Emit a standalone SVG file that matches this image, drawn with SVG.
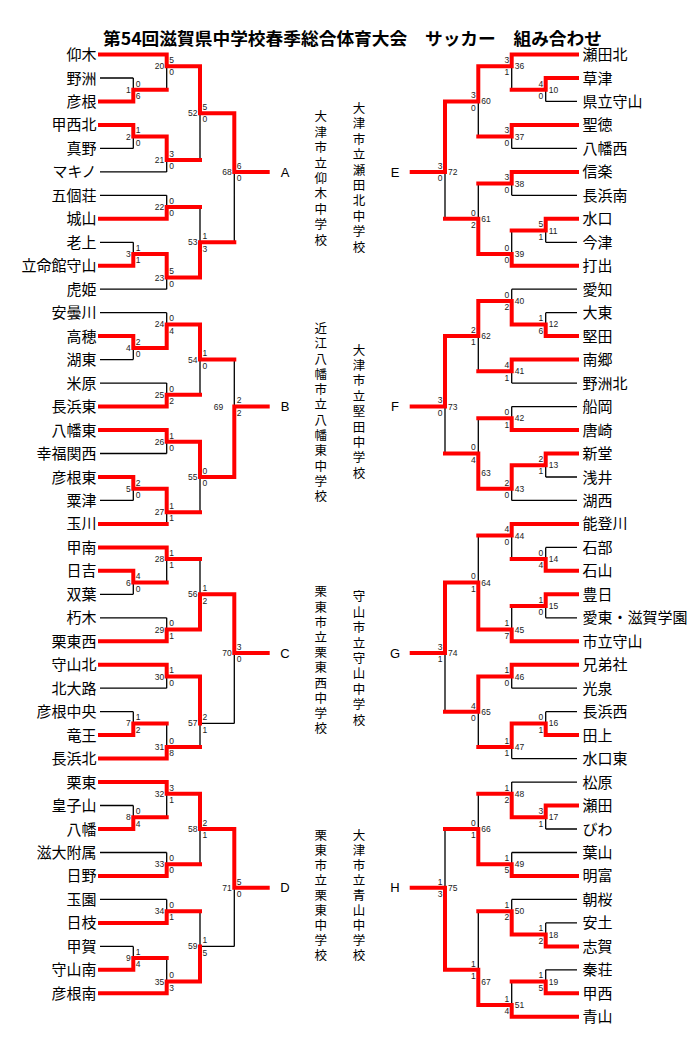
<svg xmlns="http://www.w3.org/2000/svg" width="695" height="1038" viewBox="0 0 695 1038">
<style>
.n{font-family:"Noto Sans CJK JP","Noto Sans CJK SC",sans-serif;font-size:15px;fill:#000}
.l{text-anchor:end}
.d{font-family:"Liberation Sans",Arial,sans-serif;font-size:8.5px;fill:#222}
.e{text-anchor:end}
.v{font-family:"Noto Sans CJK JP","Noto Sans CJK SC",sans-serif;font-size:12.5px;fill:#000;writing-mode:vertical-rl;text-orientation:upright}
.b{font-family:"Liberation Sans",Arial,sans-serif;font-size:13px;fill:#000;text-anchor:middle}
.blk{fill:none;stroke:#000;stroke-width:1.3}
.red{fill:none;stroke:#f00;stroke-width:4;stroke-linecap:square;stroke-linejoin:miter}
</style>
<rect width="695" height="1038" fill="#fff"/>
<g id="title"><text x="103" y="44.5" textLength="499" lengthAdjust="spacingAndGlyphs" style="font-family:'Noto Sans CJK JP','Noto Sans CJK SC',sans-serif;font-size:17px;font-weight:bold">第54回滋賀県中学校春季総合体育大会　サッカー　組み合わせ</text></g>
<g id="connectors">
<path class="blk" d="M100 78H133.3M100 148.4H133.3M100 171.9H166.7M100 195.3H166.7M100 242.3H133.3M100 289.2H166.7M100 312.7H166.7M100 359.6H133.3M100 383.1H166.7M100 453.5H166.7M100 500.4H133.3M100 594.3H133.3M100 617.8H166.7M100 688.2H166.7M100 711.7H133.3M100 805.5H133.3M100 852.5H166.7M100 899.4H166.7M100 946.4H133.3
M133.3 78V89.7M166.7 66.2V89.7M133.3 136.6V148.4M166.7 160.1V171.9M200 113.2V160.1M166.7 195.3V207.1M133.3 242.3V254M166.7 277.5V289.2M200 207.1V242.3M234.3 171.9V242.3
M133.3 347.9V359.6M166.7 312.7V324.4M166.7 383.1V394.8M200 359.6V394.8M166.7 441.8V453.5M133.3 488.7V500.4M166.7 512.2V523.9M200 477V512.2M234.3 359.6V406.6
M133.3 582.6V594.3M166.7 559.1V582.6M166.7 617.8V629.5M200 559.1V594.3M166.7 676.5V688.2M133.3 711.7V723.4M166.7 723.4V746.9M200 723.4V746.9M200 723.4H234.3M234.3 653V723.4
M133.3 805.5V817.3M166.7 793.8V817.3M166.7 852.5V864.2M200 829V864.2M166.7 899.4V911.2M133.3 946.4V958.1M166.7 958.1V981.6M200 911.2V946.4M200 946.4H234.3M234.3 887.7V946.4
M577 101.4H545.7M577 148.4H511.7M577 195.3H511.7M577 242.3H545.7M577 289.2H511.7M577 312.7H545.7M577 383.1H511.7M577 406.6H511.7M577 477H545.7M577 500.4H511.7M577 547.4H545.7M577 617.8H545.7M577 688.2H511.7M577 711.7H545.7M577 758.6H511.7M577 782.1H511.7M577 829H545.7M577 852.5H511.7M577 899.4H511.7M577 922.9H545.7M577 969.8H545.7
M545.7 89.7V101.4M511.7 66.2V89.7M511.7 136.6V148.4M478.3 101.4V136.6M511.7 183.6V195.3M545.7 230.5V242.3M511.7 230.5V254M478.3 183.6V218.8M445 171.9V218.8
M545.7 312.7V324.4M511.7 289.2V300.9M511.7 371.3V383.1M478.3 336.1V371.3M511.7 406.6V418.3M545.7 465.2V477M511.7 488.7V500.4M478.3 418.3V453.5M445 406.6V453.5
M545.7 547.4V559.1M511.7 535.6V559.1M545.7 606V617.8M511.7 606V629.5M478.3 535.6V582.6M511.7 676.5V688.2M545.7 711.7V723.4M511.7 746.9V758.6M478.3 711.7V746.9M445 653V711.7
M545.7 817.3V829M511.7 782.1V793.8M511.7 852.5V864.2M478.3 793.8V829M545.7 922.9V934.6M511.7 899.4V911.2M545.7 969.8V981.6M511.7 981.6V1005M478.3 911.2V969.8M445 829V887.7"/>
<path class="red" d="M100 54.5H166.7M100 101.4H133.3M100 124.9H133.3M100 218.8H166.7M100 265.7H133.3M100 336.1H133.3M100 406.6H166.7M100 430H166.7M100 477H133.3M100 523.9H166.7M100 547.4H166.7M100 570.8H133.3M100 641.3H166.7M100 664.7H166.7M100 735.1H133.3M100 758.6H166.7M100 782.1H166.7M100 829H133.3M100 875.9H166.7M100 922.9H166.7M100 969.8H133.3M100 993.3H166.7
M133.3 101.4V89.7H166.7M166.7 54.5V66.2H200M133.3 124.9V136.6H166.7M166.7 136.6V160.1H200M200 66.2V113.2H234.3M166.7 218.8V207.1H200M133.3 265.7V254H166.7M166.7 254V277.5H200M200 277.5V242.3H234.3M234.3 113.2V171.9H267.7
M133.3 336.1V347.9H166.7M166.7 347.9V324.4H200M166.7 406.6V394.8H200M200 324.4V359.6H234.3M166.7 430V441.8H200M133.3 477V488.7H166.7M166.7 488.7V512.2H200M200 441.8V477H234.3M234.3 477V406.6H267.7
M133.3 570.8V582.6H166.7M166.7 547.4V559.1H200M166.7 641.3V629.5H200M200 629.5V594.3H234.3M166.7 664.7V676.5H200M133.3 735.1V723.4H166.7M166.7 758.6V746.9H200M200 676.5V723.4M234.3 594.3V653H267.7
M133.3 829V817.3H166.7M166.7 782.1V793.8H200M166.7 875.9V864.2H200M200 793.8V829H234.3M166.7 922.9V911.2H200M133.3 969.8V958.1H166.7M166.7 993.3V981.6H200M200 981.6V946.4M234.3 829V887.7H267.7
M577 54.5H511.7M577 78H545.7M577 124.9H511.7M577 171.9H511.7M577 218.8H545.7M577 265.7H511.7M577 336.1H545.7M577 359.6H511.7M577 430H511.7M577 453.5H545.7M577 523.9H511.7M577 570.8H545.7M577 594.3H545.7M577 641.3H511.7M577 664.7H511.7M577 735.1H545.7M577 805.5H545.7M577 875.9H511.7M577 946.4H545.7M577 993.3H545.7M577 1016.8H511.7
M545.7 78V89.7H511.7M511.7 54.5V66.2H478.3M511.7 124.9V136.6H478.3M478.3 66.2V101.4H445M511.7 171.9V183.6H478.3M545.7 218.8V230.5H511.7M511.7 265.7V254H478.3M478.3 254V218.8H445M445 101.4V171.9H411.7
M545.7 336.1V324.4H511.7M511.7 324.4V300.9H478.3M511.7 359.6V371.3H478.3M478.3 300.9V336.1H445M511.7 430V418.3H478.3M545.7 453.5V465.2H511.7M511.7 465.2V488.7H478.3M478.3 488.7V453.5H445M445 336.1V406.6H411.7
M545.7 570.8V559.1H511.7M511.7 523.9V535.6H478.3M545.7 594.3V606H511.7M511.7 641.3V629.5H478.3M478.3 629.5V582.6H445M511.7 664.7V676.5H478.3M545.7 735.1V723.4H511.7M511.7 723.4V746.9H478.3M478.3 676.5V711.7H445M445 582.6V653H411.7
M545.7 805.5V817.3H511.7M511.7 817.3V793.8H478.3M511.7 875.9V864.2H478.3M478.3 864.2V829H445M545.7 946.4V934.6H511.7M511.7 934.6V911.2H478.3M545.7 993.3V981.6H511.7M511.7 1016.8V1005H478.3M478.3 1005V969.8H445M445 969.8V887.7H411.7"/>
</g>
<g id="scores">
<g transform="translate(133.3,89.7)"><text class="d e" x="-2.5" y="3">1</text><text class="d" x="2.5" y="-3.2">0</text><text class="d" x="2.5" y="9.3">6</text></g>
<g transform="translate(166.7,66.2)"><text class="d e" x="-2.5" y="3">20</text><text class="d" x="2.5" y="-3.2">5</text><text class="d" x="2.5" y="9.3">0</text></g>
<g transform="translate(133.3,136.6)"><text class="d e" x="-2.5" y="3">2</text><text class="d" x="2.5" y="-3.2">1</text><text class="d" x="2.5" y="9.3">0</text></g>
<g transform="translate(166.7,160.1)"><text class="d e" x="-2.5" y="3">21</text><text class="d" x="2.5" y="-3.2">3</text><text class="d" x="2.5" y="9.3">0</text></g>
<g transform="translate(200,113.2)"><text class="d e" x="-2.5" y="3">52</text><text class="d" x="2.5" y="-3.2">5</text><text class="d" x="2.5" y="9.3">0</text></g>
<g transform="translate(166.7,207.1)"><text class="d e" x="-2.5" y="3">22</text><text class="d" x="2.5" y="-3.2">0</text><text class="d" x="2.5" y="9.3">0</text></g>
<g transform="translate(133.3,254)"><text class="d e" x="-2.5" y="3">3</text><text class="d" x="2.5" y="-3.2">1</text><text class="d" x="2.5" y="9.3">1</text></g>
<g transform="translate(166.7,277.5)"><text class="d e" x="-2.5" y="3">23</text><text class="d" x="2.5" y="-3.2">5</text><text class="d" x="2.5" y="9.3">0</text></g>
<g transform="translate(200,242.3)"><text class="d e" x="-2.5" y="3">53</text><text class="d" x="2.5" y="-3.2">1</text><text class="d" x="2.5" y="9.3">3</text></g>
<g transform="translate(234.3,171.9)"><text class="d e" x="-2.5" y="3">68</text><text class="d" x="2.5" y="-3.2">6</text><text class="d" x="2.5" y="9.3">0</text></g>
<g transform="translate(133.3,347.9)"><text class="d e" x="-2.5" y="3">4</text><text class="d" x="2.5" y="-3.2">2</text><text class="d" x="2.5" y="9.3">0</text></g>
<g transform="translate(166.7,324.4)"><text class="d e" x="-2.5" y="3">24</text><text class="d" x="2.5" y="-3.2">0</text><text class="d" x="2.5" y="9.3">4</text></g>
<g transform="translate(166.7,394.8)"><text class="d e" x="-2.5" y="3">25</text><text class="d" x="2.5" y="-3.2">0</text><text class="d" x="2.5" y="9.3">2</text></g>
<g transform="translate(200,359.6)"><text class="d e" x="-2.5" y="3">54</text><text class="d" x="2.5" y="-3.2">1</text><text class="d" x="2.5" y="9.3">0</text></g>
<g transform="translate(166.7,441.8)"><text class="d e" x="-2.5" y="3">26</text><text class="d" x="2.5" y="-3.2">1</text><text class="d" x="2.5" y="9.3">0</text></g>
<g transform="translate(133.3,488.7)"><text class="d e" x="-2.5" y="3">5</text><text class="d" x="2.5" y="-3.2">2</text><text class="d" x="2.5" y="9.3">0</text></g>
<g transform="translate(166.7,512.2)"><text class="d e" x="-2.5" y="3">27</text><text class="d" x="2.5" y="-3.2">1</text><text class="d" x="2.5" y="9.3">1</text></g>
<g transform="translate(200,477)"><text class="d e" x="-2.5" y="3">55</text><text class="d" x="2.5" y="-3.2">0</text><text class="d" x="2.5" y="9.3">0</text></g>
<g transform="translate(234.3,406.6)"><text class="d e" x="-11" y="3">69</text><text class="d" x="2.5" y="-3.2">2</text><text class="d" x="2.5" y="9.3">2</text></g>
<g transform="translate(133.3,582.6)"><text class="d e" x="-2.5" y="3">6</text><text class="d" x="2.5" y="-3.2">4</text><text class="d" x="2.5" y="9.3">0</text></g>
<g transform="translate(166.7,559.1)"><text class="d e" x="-2.5" y="3">28</text><text class="d" x="2.5" y="-3.2">1</text><text class="d" x="2.5" y="9.3">1</text></g>
<g transform="translate(166.7,629.5)"><text class="d e" x="-2.5" y="3">29</text><text class="d" x="2.5" y="-3.2">0</text><text class="d" x="2.5" y="9.3">1</text></g>
<g transform="translate(200,594.3)"><text class="d e" x="-2.5" y="3">56</text><text class="d" x="2.5" y="-3.2">1</text><text class="d" x="2.5" y="9.3">2</text></g>
<g transform="translate(166.7,676.5)"><text class="d e" x="-2.5" y="3">30</text><text class="d" x="2.5" y="-3.2">1</text><text class="d" x="2.5" y="9.3">0</text></g>
<g transform="translate(133.3,723.4)"><text class="d e" x="-2.5" y="3">7</text><text class="d" x="2.5" y="-3.2">1</text><text class="d" x="2.5" y="9.3">2</text></g>
<g transform="translate(166.7,746.9)"><text class="d e" x="-2.5" y="3">31</text><text class="d" x="2.5" y="-3.2">0</text><text class="d" x="2.5" y="9.3">8</text></g>
<g transform="translate(200,723.4)"><text class="d e" x="-2.5" y="3">57</text><text class="d" x="2.5" y="-3.2">2</text><text class="d" x="2.5" y="9.3">1</text></g>
<g transform="translate(234.3,653)"><text class="d e" x="-2.5" y="3">70</text><text class="d" x="2.5" y="-3.2">3</text><text class="d" x="2.5" y="9.3">0</text></g>
<g transform="translate(133.3,817.3)"><text class="d e" x="-2.5" y="3">8</text><text class="d" x="2.5" y="-3.2">0</text><text class="d" x="2.5" y="9.3">4</text></g>
<g transform="translate(166.7,793.8)"><text class="d e" x="-2.5" y="3">32</text><text class="d" x="2.5" y="-3.2">3</text><text class="d" x="2.5" y="9.3">1</text></g>
<g transform="translate(166.7,864.2)"><text class="d e" x="-2.5" y="3">33</text><text class="d" x="2.5" y="-3.2">0</text><text class="d" x="2.5" y="9.3">0</text></g>
<g transform="translate(200,829)"><text class="d e" x="-2.5" y="3">58</text><text class="d" x="2.5" y="-3.2">2</text><text class="d" x="2.5" y="9.3">1</text></g>
<g transform="translate(166.7,911.2)"><text class="d e" x="-2.5" y="3">34</text><text class="d" x="2.5" y="-3.2">0</text><text class="d" x="2.5" y="9.3">1</text></g>
<g transform="translate(133.3,958.1)"><text class="d e" x="-2.5" y="3">9</text><text class="d" x="2.5" y="-3.2">1</text><text class="d" x="2.5" y="9.3">4</text></g>
<g transform="translate(166.7,981.6)"><text class="d e" x="-2.5" y="3">35</text><text class="d" x="2.5" y="-3.2">0</text><text class="d" x="2.5" y="9.3">3</text></g>
<g transform="translate(200,946.4)"><text class="d e" x="-2.5" y="3">59</text><text class="d" x="2.5" y="-3.2">1</text><text class="d" x="2.5" y="9.3">5</text></g>
<g transform="translate(234.3,887.7)"><text class="d e" x="-2.5" y="3">71</text><text class="d" x="2.5" y="-3.2">5</text><text class="d" x="2.5" y="9.3">0</text></g>
<g transform="translate(545.7,89.7)"><text class="d" x="3" y="3">10</text><text class="d e" x="-2.5" y="-3.2">4</text><text class="d e" x="-2.5" y="9.3">0</text></g>
<g transform="translate(511.7,66.2)"><text class="d" x="3" y="3">36</text><text class="d e" x="-2.5" y="-3.2">3</text><text class="d e" x="-2.5" y="9.3">1</text></g>
<g transform="translate(511.7,136.6)"><text class="d" x="3" y="3">37</text><text class="d e" x="-2.5" y="-3.2">3</text><text class="d e" x="-2.5" y="9.3">0</text></g>
<g transform="translate(478.3,101.4)"><text class="d" x="3" y="3">60</text><text class="d e" x="-2.5" y="-3.2">3</text><text class="d e" x="-2.5" y="9.3">0</text></g>
<g transform="translate(511.7,183.6)"><text class="d" x="3" y="3">38</text><text class="d e" x="-2.5" y="-3.2">3</text><text class="d e" x="-2.5" y="9.3">0</text></g>
<g transform="translate(545.7,230.5)"><text class="d" x="3" y="3">11</text><text class="d e" x="-2.5" y="-3.2">5</text><text class="d e" x="-2.5" y="9.3">1</text></g>
<g transform="translate(511.7,254)"><text class="d" x="3" y="3">39</text><text class="d e" x="-2.5" y="-3.2">0</text><text class="d e" x="-2.5" y="9.3">0</text></g>
<g transform="translate(478.3,218.8)"><text class="d" x="3" y="3">61</text><text class="d e" x="-2.5" y="-3.2">0</text><text class="d e" x="-2.5" y="9.3">2</text></g>
<g transform="translate(445,171.9)"><text class="d" x="3" y="3">72</text><text class="d e" x="-2.5" y="-3.2">3</text><text class="d e" x="-2.5" y="9.3">0</text></g>
<g transform="translate(545.7,324.4)"><text class="d" x="3" y="3">12</text><text class="d e" x="-2.5" y="-3.2">1</text><text class="d e" x="-2.5" y="9.3">6</text></g>
<g transform="translate(511.7,300.9)"><text class="d" x="3" y="3">40</text><text class="d e" x="-2.5" y="-3.2">0</text><text class="d e" x="-2.5" y="9.3">2</text></g>
<g transform="translate(511.7,371.3)"><text class="d" x="3" y="3">41</text><text class="d e" x="-2.5" y="-3.2">4</text><text class="d e" x="-2.5" y="9.3">1</text></g>
<g transform="translate(478.3,336.1)"><text class="d" x="3" y="3">62</text><text class="d e" x="-2.5" y="-3.2">2</text><text class="d e" x="-2.5" y="9.3">1</text></g>
<g transform="translate(511.7,418.3)"><text class="d" x="3" y="3">42</text><text class="d e" x="-2.5" y="-3.2">0</text><text class="d e" x="-2.5" y="9.3">1</text></g>
<g transform="translate(545.7,465.2)"><text class="d" x="3" y="3">13</text><text class="d e" x="-2.5" y="-3.2">2</text><text class="d e" x="-2.5" y="9.3">1</text></g>
<g transform="translate(511.7,488.7)"><text class="d" x="3" y="3">43</text><text class="d e" x="-2.5" y="-3.2">2</text><text class="d e" x="-2.5" y="9.3">0</text></g>
<g transform="translate(478.3,453.5)"><text class="d" x="3" y="22.2">63</text><text class="d e" x="-2.5" y="-3.2">0</text><text class="d e" x="-2.5" y="9.3">4</text></g>
<g transform="translate(445,406.6)"><text class="d" x="3" y="3">73</text><text class="d e" x="-2.5" y="-3.2">3</text><text class="d e" x="-2.5" y="9.3">0</text></g>
<g transform="translate(545.7,559.1)"><text class="d" x="3" y="3">14</text><text class="d e" x="-2.5" y="-3.2">0</text><text class="d e" x="-2.5" y="9.3">4</text></g>
<g transform="translate(511.7,535.6)"><text class="d" x="3" y="3">44</text><text class="d e" x="-2.5" y="-3.2">4</text><text class="d e" x="-2.5" y="9.3">0</text></g>
<g transform="translate(545.7,606)"><text class="d" x="3" y="3">15</text><text class="d e" x="-2.5" y="-3.2">1</text><text class="d e" x="-2.5" y="9.3">0</text></g>
<g transform="translate(511.7,629.5)"><text class="d" x="3" y="3">45</text><text class="d e" x="-2.5" y="-3.2">1</text><text class="d e" x="-2.5" y="9.3">7</text></g>
<g transform="translate(478.3,582.6)"><text class="d" x="3" y="3">64</text><text class="d e" x="-2.5" y="-3.2">0</text><text class="d e" x="-2.5" y="9.3">1</text></g>
<g transform="translate(511.7,676.5)"><text class="d" x="3" y="3">46</text><text class="d e" x="-2.5" y="-3.2">1</text><text class="d e" x="-2.5" y="9.3">0</text></g>
<g transform="translate(545.7,723.4)"><text class="d" x="3" y="3">16</text><text class="d e" x="-2.5" y="-3.2">0</text><text class="d e" x="-2.5" y="9.3">1</text></g>
<g transform="translate(511.7,746.9)"><text class="d" x="3" y="3">47</text><text class="d e" x="-2.5" y="-3.2">1</text><text class="d e" x="-2.5" y="9.3">1</text></g>
<g transform="translate(478.3,711.7)"><text class="d" x="3" y="3">65</text><text class="d e" x="-2.5" y="-3.2">4</text><text class="d e" x="-2.5" y="9.3">0</text></g>
<g transform="translate(445,653)"><text class="d" x="3" y="3">74</text><text class="d e" x="-2.5" y="-3.2">3</text><text class="d e" x="-2.5" y="9.3">1</text></g>
<g transform="translate(545.7,817.3)"><text class="d" x="3" y="3">17</text><text class="d e" x="-2.5" y="-3.2">3</text><text class="d e" x="-2.5" y="9.3">1</text></g>
<g transform="translate(511.7,793.8)"><text class="d" x="3" y="3">48</text><text class="d e" x="-2.5" y="-3.2">1</text><text class="d e" x="-2.5" y="9.3">2</text></g>
<g transform="translate(511.7,864.2)"><text class="d" x="3" y="3">49</text><text class="d e" x="-2.5" y="-3.2">1</text><text class="d e" x="-2.5" y="9.3">5</text></g>
<g transform="translate(478.3,829)"><text class="d" x="3" y="3">66</text><text class="d e" x="-2.5" y="-3.2">0</text><text class="d e" x="-2.5" y="9.3">1</text></g>
<g transform="translate(545.7,934.6)"><text class="d" x="3" y="3">18</text><text class="d e" x="-2.5" y="-3.2">1</text><text class="d e" x="-2.5" y="9.3">2</text></g>
<g transform="translate(511.7,911.2)"><text class="d" x="3" y="3">50</text><text class="d e" x="-2.5" y="-3.2">1</text><text class="d e" x="-2.5" y="9.3">2</text></g>
<g transform="translate(545.7,981.6)"><text class="d" x="3" y="3">19</text><text class="d e" x="-2.5" y="-3.2">1</text><text class="d e" x="-2.5" y="9.3">5</text></g>
<g transform="translate(511.7,1005)"><text class="d" x="3" y="3">51</text><text class="d e" x="-2.5" y="-3.2">1</text><text class="d e" x="-2.5" y="9.3">4</text></g>
<g transform="translate(478.3,969.8)"><text class="d" x="3" y="14.9">67</text><text class="d e" x="-2.5" y="-3.2">1</text><text class="d e" x="-2.5" y="9.3">1</text></g>
<g transform="translate(445,887.7)"><text class="d" x="3" y="3">75</text><text class="d e" x="-2.5" y="-3.2">1</text><text class="d e" x="-2.5" y="9.3">3</text></g>
</g>
<g id="blocks">
<text class="b" x="285" y="176.5">A</text><text class="b" x="285" y="411.2">B</text><text class="b" x="285" y="657.6">C</text><text class="b" x="285" y="892.3">D</text>
<text class="b" x="395" y="176.5">E</text><text class="b" x="395" y="411.2">F</text><text class="b" x="395" y="657.6">G</text><text class="b" x="395" y="892.3">H</text>
</g>
<g id="venues">
<text class="v" x="320.7" y="110.4" style="letter-spacing:2.9px">大津市立仰木中学校</text>
<text class="v" x="359" y="102" style="letter-spacing:2.9px">大津市立瀬田北中学校</text>
<text class="v" x="320.7" y="322" style="letter-spacing:2.8px">近江八幡市立八幡東中学校</text>
<text class="v" x="359" y="343.7" style="letter-spacing:2.9px">大津市立堅田中学校</text>
<text class="v" x="320.7" y="585.4" style="letter-spacing:2.7px">栗東市立栗東西中学校</text>
<text class="v" x="359" y="590.4" style="letter-spacing:2.9px">守山市立守山中学校</text>
<text class="v" x="320.7" y="828.7" style="letter-spacing:2.5px">栗東市立栗東中学校</text>
<text class="v" x="359" y="828.7" style="letter-spacing:2.5px">大津市立青山中学校</text>
</g>
<g id="teams-left">
<g id="t-L01"><text class="n l" x="96.5" y="60">仰木</text></g>
<g id="t-L02"><text class="n l" x="96.5" y="83.5">野洲</text></g>
<g id="t-L03"><text class="n l" x="96.5" y="106.9">彦根</text></g>
<g id="t-L04"><text class="n l" x="96.5" y="130.4">甲西北</text></g>
<g id="t-L05"><text class="n l" x="96.5" y="153.9">真野</text></g>
<g id="t-L06"><text class="n l" x="96.5" y="177.4">マキノ</text></g>
<g id="t-L07"><text class="n l" x="96.5" y="200.8">五個荘</text></g>
<g id="t-L08"><text class="n l" x="96.5" y="224.3">城山</text></g>
<g id="t-L09"><text class="n l" x="96.5" y="247.8">老上</text></g>
<g id="t-L10"><text class="n l" x="96.5" y="271.2">立命館守山</text></g>
<g id="t-L11"><text class="n l" x="96.5" y="294.7">虎姫</text></g>
<g id="t-L12"><text class="n l" x="96.5" y="318.2">安曇川</text></g>
<g id="t-L13"><text class="n l" x="96.5" y="341.6">高穂</text></g>
<g id="t-L14"><text class="n l" x="96.5" y="365.1">湖東</text></g>
<g id="t-L15"><text class="n l" x="96.5" y="388.6">米原</text></g>
<g id="t-L16"><text class="n l" x="96.5" y="412.1">長浜東</text></g>
<g id="t-L17"><text class="n l" x="96.5" y="435.5">八幡東</text></g>
<g id="t-L18"><text class="n l" x="96.5" y="459">幸福関西</text></g>
<g id="t-L19"><text class="n l" x="96.5" y="482.5">彦根東</text></g>
<g id="t-L20"><text class="n l" x="96.5" y="505.9">粟津</text></g>
<g id="t-L21"><text class="n l" x="96.5" y="529.4">玉川</text></g>
<g id="t-L22"><text class="n l" x="96.5" y="552.9">甲南</text></g>
<g id="t-L23"><text class="n l" x="96.5" y="576.3">日吉</text></g>
<g id="t-L24"><text class="n l" x="96.5" y="599.8">双葉</text></g>
<g id="t-L25"><text class="n l" x="96.5" y="623.3">朽木</text></g>
<g id="t-L26"><text class="n l" x="96.5" y="646.8">栗東西</text></g>
<g id="t-L27"><text class="n l" x="96.5" y="670.2">守山北</text></g>
<g id="t-L28"><text class="n l" x="96.5" y="693.7">北大路</text></g>
<g id="t-L29"><text class="n l" x="96.5" y="717.2">彦根中央</text></g>
<g id="t-L30"><text class="n l" x="96.5" y="740.6">竜王</text></g>
<g id="t-L31"><text class="n l" x="96.5" y="764.1">長浜北</text></g>
<g id="t-L32"><text class="n l" x="96.5" y="787.6">栗東</text></g>
<g id="t-L33"><text class="n l" x="96.5" y="811">皇子山</text></g>
<g id="t-L34"><text class="n l" x="96.5" y="834.5">八幡</text></g>
<g id="t-L35"><text class="n l" x="96.5" y="858">滋大附属</text></g>
<g id="t-L36"><text class="n l" x="96.5" y="881.4">日野</text></g>
<g id="t-L37"><text class="n l" x="96.5" y="904.9">玉園</text></g>
<g id="t-L38"><text class="n l" x="96.5" y="928.4">日枝</text></g>
<g id="t-L39"><text class="n l" x="96.5" y="951.9">甲賀</text></g>
<g id="t-L40"><text class="n l" x="96.5" y="975.3">守山南</text></g>
<g id="t-L41"><text class="n l" x="96.5" y="998.8">彦根南</text></g>
</g>
<g id="teams-right">
<g id="t-R01"><text class="n" x="582.5" y="60">瀬田北</text></g>
<g id="t-R02"><text class="n" x="582.5" y="83.5">草津</text></g>
<g id="t-R03"><text class="n" x="582.5" y="106.9">県立守山</text></g>
<g id="t-R04"><text class="n" x="582.5" y="130.4">聖徳</text></g>
<g id="t-R05"><text class="n" x="582.5" y="153.9">八幡西</text></g>
<g id="t-R06"><text class="n" x="582.5" y="177.4">信楽</text></g>
<g id="t-R07"><text class="n" x="582.5" y="200.8">長浜南</text></g>
<g id="t-R08"><text class="n" x="582.5" y="224.3">水口</text></g>
<g id="t-R09"><text class="n" x="582.5" y="247.8">今津</text></g>
<g id="t-R10"><text class="n" x="582.5" y="271.2">打出</text></g>
<g id="t-R11"><text class="n" x="582.5" y="294.7">愛知</text></g>
<g id="t-R12"><text class="n" x="582.5" y="318.2">大東</text></g>
<g id="t-R13"><text class="n" x="582.5" y="341.6">堅田</text></g>
<g id="t-R14"><text class="n" x="582.5" y="365.1">南郷</text></g>
<g id="t-R15"><text class="n" x="582.5" y="388.6">野洲北</text></g>
<g id="t-R16"><text class="n" x="582.5" y="412.1">船岡</text></g>
<g id="t-R17"><text class="n" x="582.5" y="435.5">唐崎</text></g>
<g id="t-R18"><text class="n" x="582.5" y="459">新堂</text></g>
<g id="t-R19"><text class="n" x="582.5" y="482.5">浅井</text></g>
<g id="t-R20"><text class="n" x="582.5" y="505.9">湖西</text></g>
<g id="t-R21"><text class="n" x="582.5" y="529.4">能登川</text></g>
<g id="t-R22"><text class="n" x="582.5" y="552.9">石部</text></g>
<g id="t-R23"><text class="n" x="582.5" y="576.3">石山</text></g>
<g id="t-R24"><text class="n" x="582.5" y="599.8">豊日</text></g>
<g id="t-R25"><text class="n" x="582.5" y="623.3">愛東・滋賀学園</text></g>
<g id="t-R26"><text class="n" x="582.5" y="646.8">市立守山</text></g>
<g id="t-R27"><text class="n" x="582.5" y="670.2">兄弟社</text></g>
<g id="t-R28"><text class="n" x="582.5" y="693.7">光泉</text></g>
<g id="t-R29"><text class="n" x="582.5" y="717.2">長浜西</text></g>
<g id="t-R30"><text class="n" x="582.5" y="740.6">田上</text></g>
<g id="t-R31"><text class="n" x="582.5" y="764.1">水口東</text></g>
<g id="t-R32"><text class="n" x="582.5" y="787.6">松原</text></g>
<g id="t-R33"><text class="n" x="582.5" y="811">瀬田</text></g>
<g id="t-R34"><text class="n" x="582.5" y="834.5">びわ</text></g>
<g id="t-R35"><text class="n" x="582.5" y="858">葉山</text></g>
<g id="t-R36"><text class="n" x="582.5" y="881.4">明富</text></g>
<g id="t-R37"><text class="n" x="582.5" y="904.9">朝桜</text></g>
<g id="t-R38"><text class="n" x="582.5" y="928.4">安土</text></g>
<g id="t-R39"><text class="n" x="582.5" y="951.9">志賀</text></g>
<g id="t-R40"><text class="n" x="582.5" y="975.3">秦荘</text></g>
<g id="t-R41"><text class="n" x="582.5" y="998.8">甲西</text></g>
<g id="t-R42"><text class="n" x="582.5" y="1022.3">青山</text></g>
</g>
</svg>
